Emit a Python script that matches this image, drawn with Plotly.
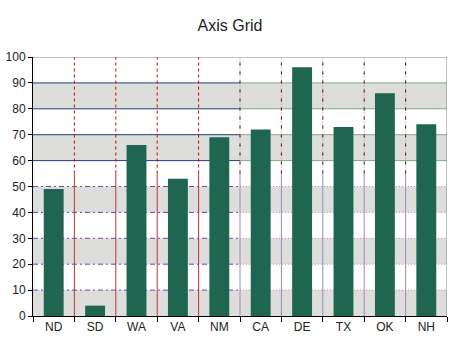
import plotly.graph_objects as go

categories = ["ND", "SD", "WA", "VA", "NM", "CA", "DE", "TX", "OK", "NH"]
values = [49, 4, 66, 53, 69, 72, 96, 73, 86, 74]
y_ticks = list(range(0, 101, 10))
band_starts = [0, 20, 40, 60, 80]
band_width = 10
lower_grid = [10, 20, 30, 40, 50]
upper_grid = [60, 70, 80, 90]
left_vlines = [0.5, 1.5, 2.5, 3.5]
right_vlines = [4.5, 5.5, 6.5, 7.5, 8.5]
x_split = 4.5
y_split = 55

fig = go.Figure()
fig.add_trace(go.Bar(x=categories, y=values, marker_color="#1e6650", marker_line_width=0, width=0.48))

shapes = []
xmin, xmax = -0.5, len(categories) - 0.5
for b in band_starts:
    shapes.append(dict(type="rect", xref="x", yref="y", x0=xmin, x1=xmax, y0=b, y1=b + band_width,
                       fillcolor="#dddddc", line_width=0, layer="below"))

def hline(y, x0, x1, color, dash):
    shapes.append(dict(type="line", xref="x", yref="y", x0=x0, x1=x1, y0=y, y1=y,
                       line=dict(color=color, width=1, dash=dash), layer="below"))

def vline(x, y0, y1, color, dash):
    shapes.append(dict(type="line", xref="x", yref="y", x0=x, x1=x, y0=y0, y1=y1,
                       line=dict(color=color, width=1, dash=dash), layer="below"))

for y in upper_grid:
    hline(y, xmin, x_split, "#1f3f80", "solid")
    hline(y, x_split, xmax, "#7fa88e", "solid")
for y in lower_grid:
    hline(y, xmin, x_split, "#7b3fb0", "5px,3px,2px,3px")
    hline(y, x_split, xmax, "#d88a8a", "1px,2px")
for x in left_vlines:
    vline(x, y_split, 100, "#d00000", "3px,3px")
    vline(x, 0, y_split, "#c83232", "solid")
for x in right_vlines:
    vline(x, y_split, 100, "#a09090", "1px,2px")
    vline(x, y_split, 100, "#5c1010", "3px,6px")
    vline(x, 0, y_split, "#9a88c0", "solid")
# grey top and right border
shapes.append(dict(type="line", xref="x", yref="y", x0=xmin, x1=xmax, y0=100, y1=100,
                   line=dict(color="#808080", width=1)))
shapes.append(dict(type="line", xref="x", yref="y", x0=xmax, x1=xmax, y0=0, y1=100,
                   line=dict(color="#808080", width=1)))

fig.update_layout(
    width=460, height=345,
    margin=dict(l=33, r=13, t=57, b=29, autoexpand=False),
    paper_bgcolor="white", plot_bgcolor="white",
    title=dict(text="Axis Grid", x=0.5, xanchor="center", y=0.925, yanchor="middle",
               font=dict(family="Liberation Sans, Arial", size=16, color="#222")),
    font=dict(family="Liberation Sans, Arial", size=12, color="#222"),
    showlegend=False,
    shapes=shapes,
    xaxis=dict(type="category", range=[xmin, xmax], tickson="boundaries", ticks="outside",
               ticklen=5, tickcolor="black", showline=True, linecolor="black", linewidth=1,
               showgrid=False, zeroline=False, automargin=False),
    yaxis=dict(range=[0, 100], tickvals=y_ticks, ticks="outside", ticklen=4, tickcolor="black",
               showline=True, linecolor="black", linewidth=1, showgrid=False, zeroline=False,
               automargin=False),
)

fig.write_html("out.html")
